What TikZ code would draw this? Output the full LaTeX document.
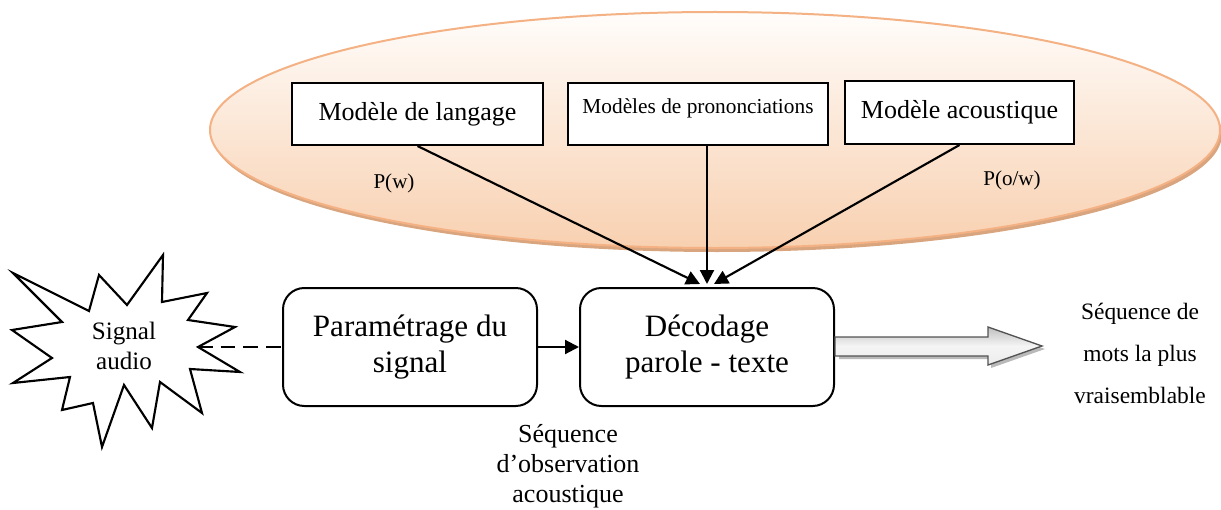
\documentclass[tikz,border=0pt]{standalone}
\usepackage{fontspec}
\setmainfont{Liberation Serif}
\usetikzlibrary{arrows.meta,calc}
\definecolor{peachline}{HTML}{F4B183}
\definecolor{peachtop}{HTML}{FFFDFB}
\definecolor{peachbot}{HTML}{F8D0B0}
\definecolor{peachshadow}{HTML}{D9A57F}
\begin{document}
\begin{tikzpicture}[x=0.75pt,y=-0.75pt,
  model/.style={draw, line width=1.5pt, fill=white, minimum height=46.5pt, inner sep=0pt, font=\fontsize{19.5}{23}\selectfont},
  stage/.style={draw, line width=1.5pt, fill=white, rounded corners=16pt, minimum width=190.5pt, minimum height=88.5pt, align=center, inner sep=0pt, font=\fontsize{23.3}{27.5}\selectfont},
  link/.style={line width=1.6pt, -{Triangle[length=10.5pt,width=10.5pt]}},
  plain/.style={inner sep=0pt, align=center},
]
\useasboundingbox (0,0) rectangle (1221,510);
% ellipse with shadow
\fill[peachshadow] (717,134) ellipse [x radius=378.75pt, y radius=88.5pt];
\draw[peachline, line width=1.5pt, top color=peachtop, bottom color=peachbot] (715,130) ellipse [x radius=378.75pt, y radius=88.5pt];
% model boxes
\node[model, minimum width=188.25pt] (lang) at (417.5,114) {Modèle de langage};
\node[model, minimum width=195pt, font=\fontsize{16}{19}\selectfont, text depth=12pt] (pron) at (698,114) {Modèles de prononciations};
\node[model, minimum width=171.75pt, minimum height=47.25pt] (acou) at (959.5,112.5) {Modèle acoustique};
\node[plain, font=\fontsize{15.8}{19}\selectfont] (pw) at (394,183) {P(w)};
\node[plain, font=\fontsize{15.8}{19}\selectfont] (pow) at (1012,180) {P(o/w)};
% stages
\node[stage] (param) at (410,347) {Paramétrage du\\signal};
\node[stage] (deco) at (707,347) {Décodage\\parole - texte};
% connectors from models
\draw[link] (lang.south) -- ($(deco.north)+(-7,-3)$);
\draw[link] (pron.south -| deco.north) -- ($(deco.north)+(0,-3)$);
\draw[link] (acou.south) -- ($(deco.north)+(7,-3)$);
\draw[link] (param.east) -- (deco.west);
% starburst
\draw[line width=1.6pt, fill=white, line join=miter]
  (13,273) -- (89,311) -- (99,275) -- (127,305) -- (163,255) -- (162,302)
  -- (207,293) -- (188,320) -- (235,327) -- (198,347) -- (240,372)
  -- (190,369) -- (202,413) -- (160,382) -- (152,428) -- (124,385)
  -- (102,447) -- (93,403) -- (62,410) -- (70,377) -- (13,383)
  -- (52,358) -- (12,330) -- (62,322) -- cycle;
\coordinate (sigR) at (198,347);
\node[plain, font=\fontsize{18.8}{23}\selectfont] (sig) at (124,346) {Signal\\audio};
\draw[line width=1.3pt, dash pattern=on 11pt off 6pt] (sigR) -- (param.west);
% big output arrow
\coordinate (outA) at (deco.east);
\fill[gray!55] (839,340) -- (991,340) -- (991,330) -- (1045,349) -- (991,368) -- (991,359) -- (839,359) -- cycle;
\draw[gray!65!black, line width=1pt, top color=gray!50, bottom color=gray!15, middle color=white!92!gray]
  (outA |- 0,337) -- (988,337) -- (988,327) -- (1042,346) -- (988,365) -- (988,356) -- (outA |- 0,356) -- cycle;
\node[plain, font=\fontsize{17.6}{31.5}\selectfont] (res) at (1140,353) {Séquence de\\mots la plus\\vraisemblable};
\node[plain, font=\fontsize{19.5}{22.5}\selectfont] (obs) at (568,466) {Séquence\\d’observation\\acoustique};
\end{tikzpicture}
\end{document}
